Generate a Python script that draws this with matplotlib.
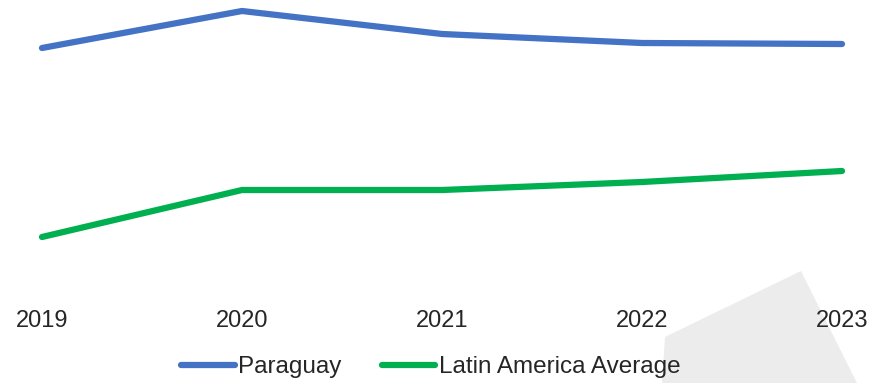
import matplotlib
matplotlib.use("Agg")
import matplotlib.pyplot as plt
from matplotlib.patches import Polygon

years = ["2019", "2020", "2021", "2022", "2023"]
paraguay = [25.2, 28.9, 26.6, 25.7, 25.6]
latam_avg = [6.3, 11.0, 11.0, 11.8, 12.9]

W, H = 872, 383
fig = plt.figure(figsize=(W / 100, H / 100), dpi=100)
plt.rcParams["font.family"] = ["Liberation Sans", "DejaVu Sans"]

# light grey decorative shape in the lower right corner
pts = [(662, 383), (665, 337), (801, 271), (857, 383)]
fig.patches.append(Polygon([(x / W, 1 - y / H) for x, y in pts], closed=True,
                           transform=fig.transFigure, facecolor="#ececec",
                           edgecolor="none", zorder=-10))

ax = fig.add_axes([42 / W, (H - 300) / H, 800 / W, 300 / H])
ax.set_facecolor("none")
x = list(range(len(years)))
ax.plot(x, paraguay, color="#4472C4", lw=4.5, solid_capstyle="round",
        solid_joinstyle="round", clip_on=False, label="Paraguay")
ax.plot(x, latam_avg, color="#00B050", lw=4.5, solid_capstyle="round",
        solid_joinstyle="round", clip_on=False, label="Latin America Average")
ax.set_xlim(0, len(years) - 1)
ax.set_ylim(0, 30)
ax.set_xticks(x)
ax.set_xticklabels(years, fontsize=17, color="#262626")
ax.tick_params(axis="x", length=0, pad=7)
ax.set_yticks([])
for s in ax.spines.values():
    s.set_visible(False)

fig.legend(loc="center", bbox_to_anchor=(431 / W, 1 - 367 / H), ncol=2,
           frameon=False, fontsize=17.5, handlelength=2.2, handletextpad=0.16,
           columnspacing=1.65, labelcolor="#262626")

fig.savefig("out.png", dpi=100)
